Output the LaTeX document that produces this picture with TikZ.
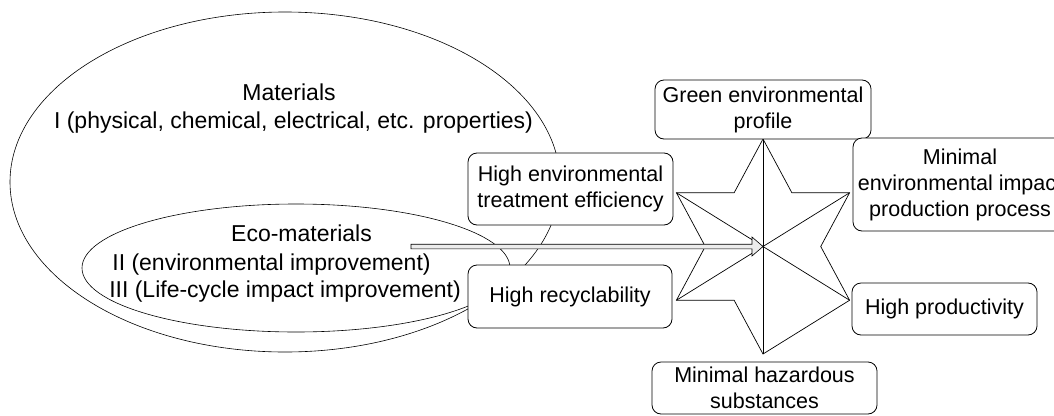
\documentclass[tikz,border=0pt]{standalone}
\usepackage{fontspec}
\setmainfont{Liberation Sans}
\usetikzlibrary{calc}

\begin{document}
\begin{tikzpicture}[x=1pt, y=-1pt,
		goal/.style={draw, fill=white, rounded corners=9pt, line width=0.8pt, align=center, inner sep=2pt, font=\fontsize{21.5}{26}\selectfont},
		bubble/.style={line width=0.6pt},
		bubbletext/.style={anchor=base, inner sep=0pt, font=\fontsize{23}{27}\selectfont}]
		\pgfmathsetmacro\radius{107.5}
		\pgfmathsetmacro\inner{\radius/sqrt(3)}
		\useasboundingbox (0,0) rectangle (1054,415);
		\clip (0,0) rectangle (1054,415);

		% material ellipses
		\draw[bubble] (285,182) ellipse [x radius=275pt, y radius=170pt];
		\draw[bubble] (296,268) ellipse [x radius=214pt, y radius=64pt];
		\node[bubbletext] (mat) at (289,100) {Materials};
		\node[bubbletext] (matI) at (293.5,128) {I (physical, chemical, electrical, etc. properties)};
		\node[bubbletext] (eco) at (301.5,241) {Eco-materials};
		\node[bubbletext] (ecoII) at (271.5,270) {II (environmental improvement)};
		\node[bubbletext] (ecoIII) at (285,297) {III (Life-cycle impact improvement)};

		% star
		\coordinate (ctr) at (763,246.5);
		\begin{scope}[shift={(ctr)}, xscale=0.93]
			\draw[fill=white, line width=0.7pt] (90:\radius)
				\foreach \a in {90,150,...,330} { -- (\a+30:\inner) -- (\a+60:\radius) } -- cycle;
			\foreach \a in {90,150,210}
				\draw[line width=0.7pt] (\a:\radius) -- (\a+180:\radius);
		\end{scope}

		% arrow into the star
		\coordinate (tail) at (411,246.5);
		\draw[fill=gray!15, line width=0.6pt] ($(tail)+(0,-2.3)$) -- ($(ctr)+(-11,-2.3)$) -- ($(ctr)+(-11,-9.5)$)
			-- (ctr) -- ($(ctr)+(-11,9.5)$) -- ($(ctr)+(-11,2.3)$) -- ($(tail)+(0,2.3)$) -- cycle;

		% properties
		\foreach \name/\x/\y/\w/\h/\txt in {%
			green/763/109.5/216/59/{Green environmental\\profile},
			treat/570.5/189/205/72/{High environmental\\treatment efficiency},
			recycle/570/296.5/204/63/{High recyclability},
			process/960/184.5/214/93/{Minimal\\environmental impact\\production process},
			product/944.5/309/185/52/{High productivity},
			hazard/764.5/388/225/52/{Minimal hazardous\\substances}%
		}{
			\node[goal, minimum width=\w, minimum height=\h] (\name) at (\x,\y) {\txt};
		}

	\end{tikzpicture}
\end{document}
